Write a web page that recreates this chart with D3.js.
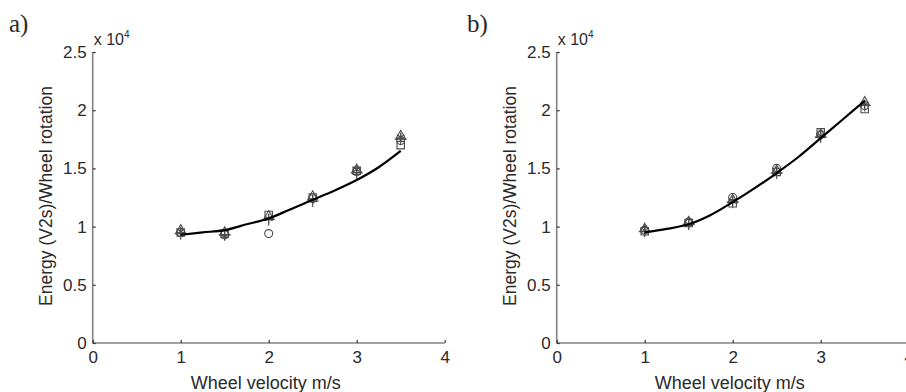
<!DOCTYPE html>
<html>
<head>
<meta charset="utf-8">
<script src="https://cdn.jsdelivr.net/npm/d3@7/dist/d3.min.js"></script>
<style>
  html, body { margin: 0; padding: 0; background: #fff; }
  svg { display: block; }
  text { fill: #2a2a2a; }
</style>
</head>
<body>
<svg id="chart" width="906" height="392"></svg>
<script>
// ---------- data (values in units of 10^4) ----------
const velocities = [1, 1.5, 2, 2.5, 3, 3.5];
const xTicks = [0, 1, 2, 3, 4];
const yTicks = [0, 0.5, 1, 1.5, 2, 2.5];
const yTickLabels = ["0", "0.5", "1", "1.5", "2", "2.5"];

// panel a measurement series
const circleA   = [0.95, 0.93, 0.94, 1.24, 1.47, 1.74];
const squareA   = [0.95, 0.94, 1.10, 1.25, 1.48, 1.70];
const starA     = [0.96, 0.92, 1.07, 1.23, 1.49, 1.77];
const triangleA = [0.97, 0.95, 1.09, 1.26, 1.49, 1.78];
const plusA     = [0.94, 0.93, 1.06, 1.22, 1.46, 1.75];

// panel b measurement series
const circleB   = [0.97, 1.04, 1.25, 1.50, 1.79, 2.04];
const squareB   = [0.96, 1.03, 1.20, 1.47, 1.81, 2.01];
const starB     = [0.97, 1.02, 1.22, 1.47, 1.78, 2.05];
const triangleB = [0.98, 1.04, 1.23, 1.48, 1.79, 2.07];
const plusB     = [0.96, 1.02, 1.21, 1.46, 1.77, 2.04];

// fitted curves
const fitX = [1, 1.25, 1.5, 1.75, 2, 2.25, 2.5, 2.75, 3, 3.25, 3.5];
const fitA = [0.93, 0.95, 0.97, 1.02, 1.07, 1.15, 1.23, 1.31, 1.40, 1.51, 1.65];
const fitB = [0.95, 0.98, 1.02, 1.10, 1.21, 1.33, 1.46, 1.60, 1.76, 1.92, 2.08];

const panelLabels = ["a)", "b)"];
const xTitle = "Wheel velocity m/s";
const yTitle = "Energy (V2s)/Wheel rotation";

// ---------- drawing ----------
const svg = d3.select("#chart");
const markerColor = "#4a4a4a";
const sans = "'Liberation Sans', Arial, sans-serif";
const serif = "'Liberation Serif', 'Times New Roman', serif";

const symbolMap = {
  circle: d3.symbolCircle,
  square: d3.symbolSquare,
  star: d3.symbolAsterisk,
  triangle: d3.symbolTriangle,
  plus: d3.symbolPlus
};
const symbolSize = { circle: 50, square: 55, star: 55, triangle: 40, plus: 50 };

function drawPanel(opt) {
  const g = svg.append("g");
  const x = d3.scaleLinear().domain([0, 4]).range([opt.x0, opt.x0 + 352]);
  const y = d3.scaleLinear().domain([0, 2.5]).range([343, 52]);

  // axes lines
  g.append("line").attr("x1", x(0)).attr("x2", x(4)).attr("y1", y(0)).attr("y2", y(0))
    .attr("stroke", "#808080").attr("stroke-width", 1.6);
  g.append("line").attr("x1", x(0)).attr("x2", x(0)).attr("y1", y(0)).attr("y2", y(2.5))
    .attr("stroke", "#808080").attr("stroke-width", 1.6);

  // x axis ticks (inward) + labels
  const xAxis = d3.axisBottom(x).tickValues(xTicks).tickSizeInner(-3).tickSizeOuter(0).tickPadding(8)
    .tickFormat(d3.format("d"));
  const gx = g.append("g").attr("transform", `translate(0,${y(0)})`).call(xAxis);
  gx.select(".domain").remove();
  gx.selectAll(".tick line").attr("stroke", "#333").attr("stroke-width", 1.2);
  gx.selectAll(".tick text").style("font-size", "17px").style("font-family", sans).attr("fill", "#2a2a2a");

  // y axis ticks (inward) + labels
  const yAxis = d3.axisLeft(y).tickValues(yTicks).tickSizeInner(-3).tickSizeOuter(0).tickPadding(6)
    .tickFormat((d, i) => yTickLabels[i]);
  const gy = g.append("g").attr("transform", `translate(${x(0)},0)`).call(yAxis);
  gy.select(".domain").remove();
  gy.selectAll(".tick line").attr("stroke", "#333").attr("stroke-width", 1.2);
  gy.selectAll(".tick text").style("font-size", "17px").style("font-family", sans).attr("fill", "#2a2a2a");

  // exponent label
  const ex = g.append("text").attr("x", x(0) + 1).attr("y", 45)
    .style("font-size", "16px").style("font-family", sans);
  ex.append("tspan").text("x 10");
  ex.append("tspan").attr("dy", -7).style("font-size", "10px").text("4");

  // axis titles
  g.append("text").attr("x", (x(0) + x(4)) / 2 - 3).attr("y", 389)
    .attr("text-anchor", "middle").style("font-size", "18px").style("font-family", sans).text(xTitle);
  g.append("text")
    .attr("transform", `translate(${x(0) - 41},${196}) rotate(-90)`)
    .attr("text-anchor", "middle").style("font-size", "17.5px").style("font-family", sans).text(yTitle);

  // panel label
  g.append("text").attr("x", opt.labelX).attr("y", 32)
    .style("font-family", serif).style("font-size", "25px").attr("fill", "#000").text(opt.label);

  // markers
  opt.series.forEach(s => {
    const gen = d3.symbol().type(symbolMap[s.type]).size(symbolSize[s.type]);
    g.selectAll(null).data(velocities.map((v, i) => [v, s.values[i]])).enter()
      .append("path")
      .attr("d", gen)
      .attr("transform", d => `translate(${x(d[0])},${y(d[1])})`)
      .attr("fill", "none")
      .attr("stroke", markerColor)
      .attr("stroke-width", 1.1);
  });

  // fitted curve
  const line = d3.line().x(d => x(d[0])).y(d => y(d[1])).curve(d3.curveMonotoneX);
  g.append("path").datum(fitX.map((v, i) => [v, opt.fit[i]]))
    .attr("d", line).attr("fill", "none").attr("stroke", "#000").attr("stroke-width", 2.2);
}

drawPanel({
  x0: 92.7, label: panelLabels[0], labelX: 9, fit: fitA,
  series: [
    { type: "circle", values: circleA },
    { type: "square", values: squareA },
    { type: "star", values: starA },
    { type: "triangle", values: triangleA },
    { type: "plus", values: plusA }
  ]
});

drawPanel({
  x0: 556.7, label: panelLabels[1], labelX: 467, fit: fitB,
  series: [
    { type: "circle", values: circleB },
    { type: "square", values: squareB },
    { type: "star", values: starB },
    { type: "triangle", values: triangleB },
    { type: "plus", values: plusB }
  ]
});
</script>
</body>
</html>
